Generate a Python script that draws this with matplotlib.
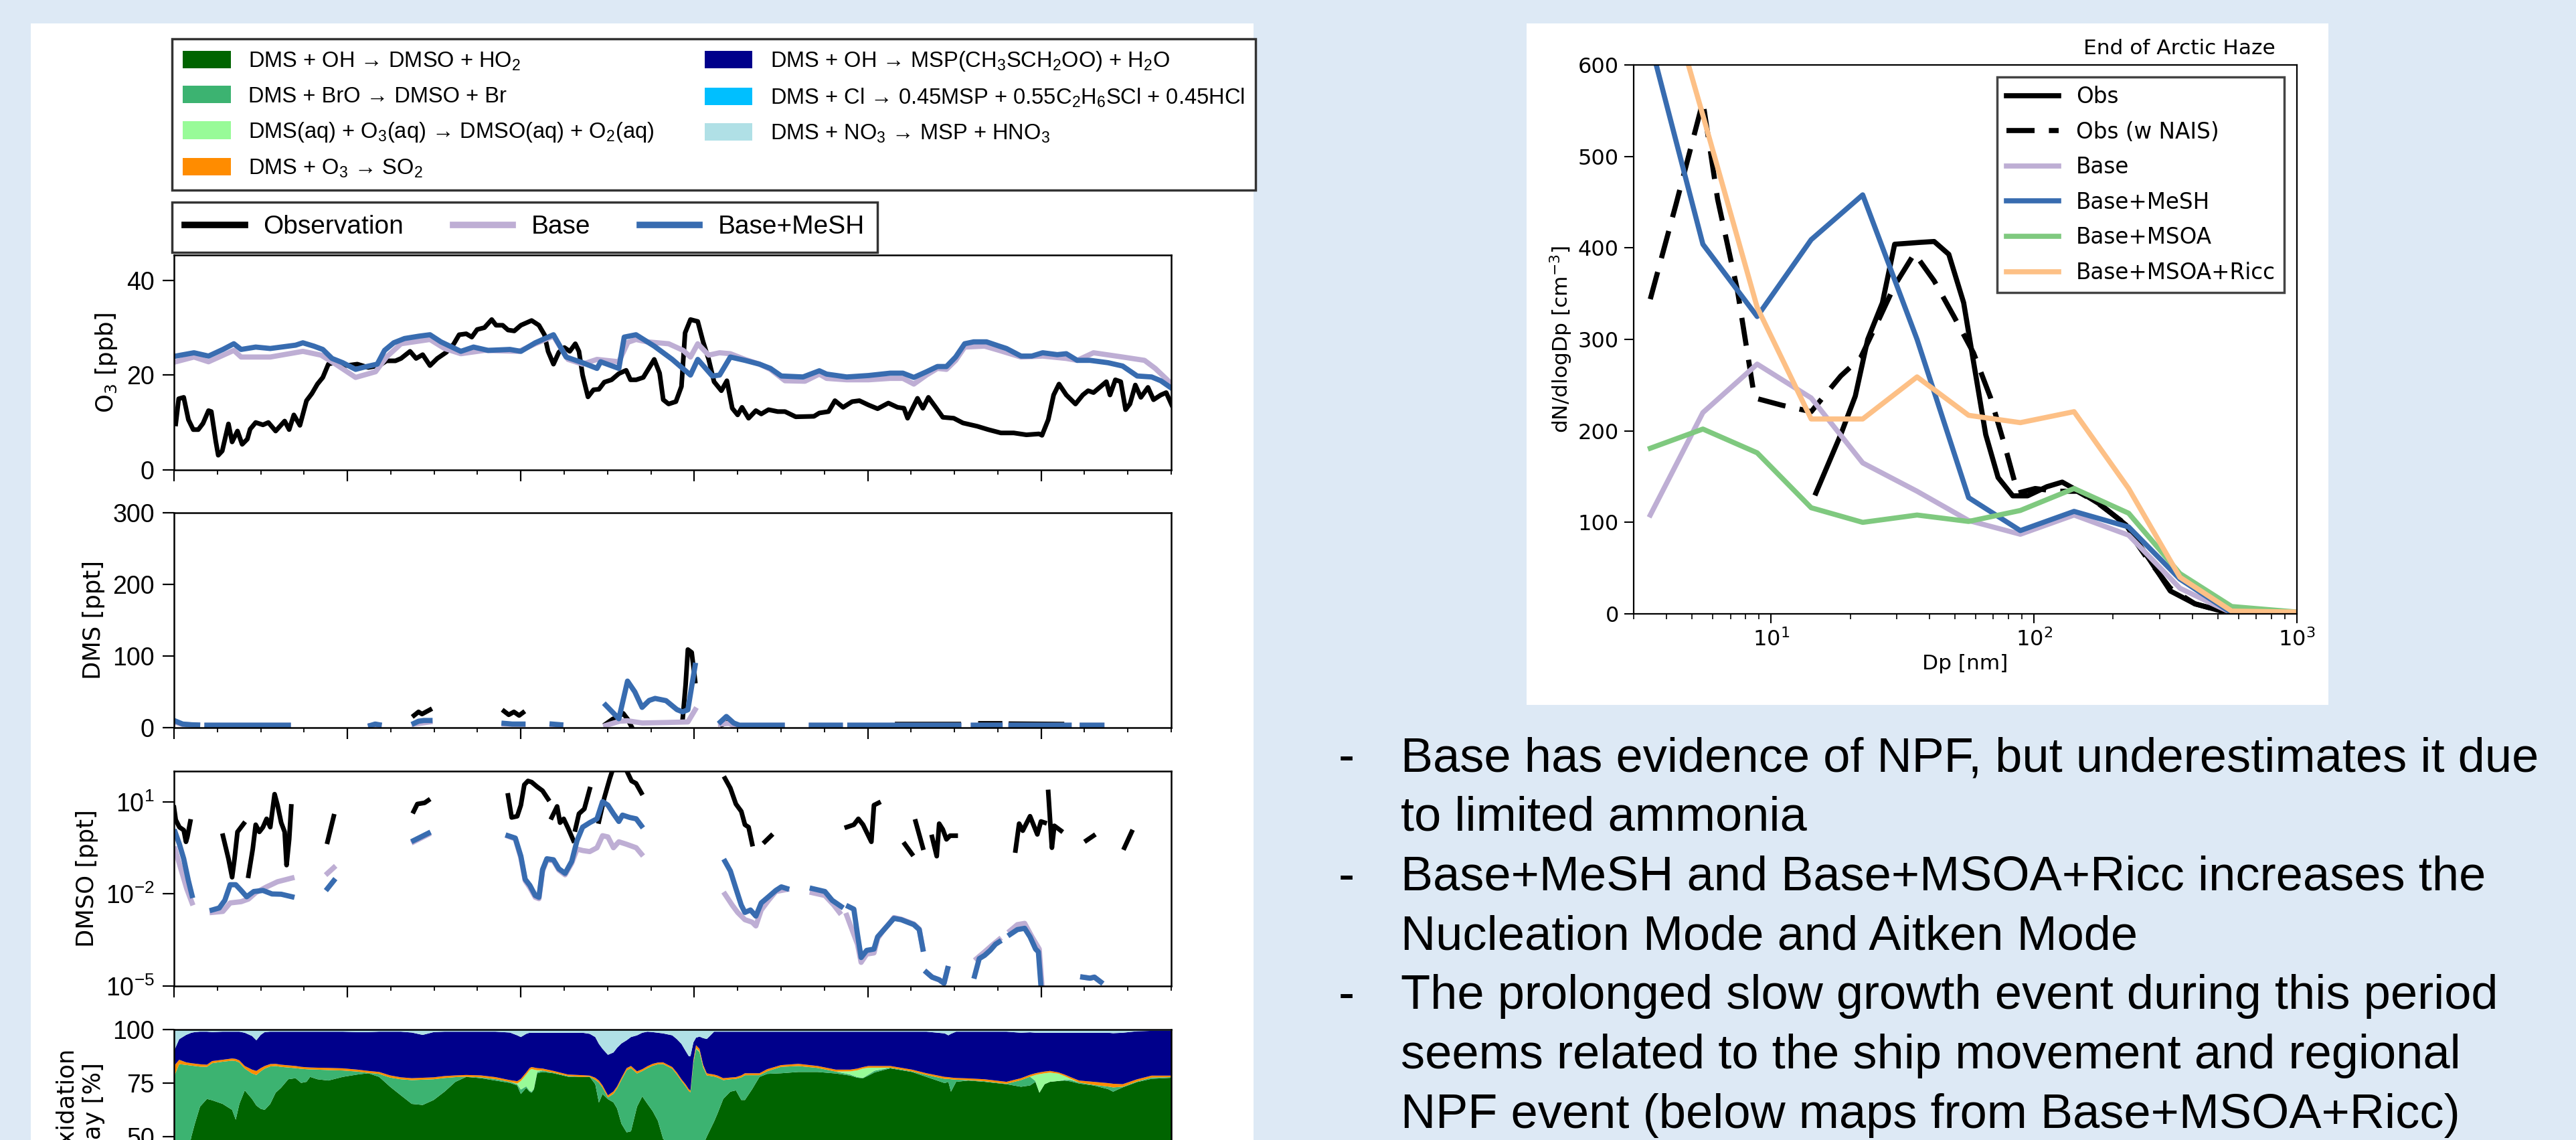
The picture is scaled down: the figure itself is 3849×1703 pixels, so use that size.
import numpy as np
import matplotlib
matplotlib.use('Agg')
import matplotlib.pyplot as plt
from matplotlib.patches import Rectangle, Patch
from matplotlib.lines import Line2D
from matplotlib.ticker import MultipleLocator, FixedLocator, NullLocator, NullFormatter, LogFormatterSciNotation

plt.rcParams['font.family'] = ['Liberation Sans', 'DejaVu Sans']

# ---------------- data (days since start of period) ----------------
O3_OBS = [(0.010, 9.7), (0.027, 15.0), (0.056, 15.3), (0.083, 10.6), (0.111, 8.5), (0.140, 8.5), (0.167, 9.8),
          (0.199, 12.5), (0.215, 12.3), (0.241, 6.0), (0.255, 3.1), (0.278, 4.0), (0.314, 9.7), (0.335, 5.9),
          (0.366, 8.2), (0.393, 5.4), (0.423, 6.5), (0.439, 8.6), (0.471, 10.0), (0.513, 9.5), (0.544, 10.0),
          (0.586, 8.2), (0.638, 10.3), (0.664, 8.5), (0.691, 11.6), (0.726, 9.4), (0.764, 14.6), (0.795, 16.1),
          (0.827, 18.1), (0.858, 19.5), (0.890, 22.3), (0.942, 22.8), (0.994, 22.0), (1.057, 22.3), (1.120, 21.6),
          (1.183, 22.0), (1.225, 23.0), (1.277, 23.0), (1.309, 23.5), (1.361, 25.0), (1.396, 23.5), (1.434, 24.3),
          (1.476, 22.0), (1.518, 23.5), (1.570, 24.8), (1.612, 26.5), (1.644, 28.5), (1.685, 28.7), (1.717, 28.0),
          (1.748, 29.6), (1.790, 30.0), (1.832, 31.7), (1.857, 30.5), (1.895, 30.5), (1.926, 29.5), (1.962, 29.3),
          (2.000, 30.5), (2.062, 31.5), (2.104, 30.5), (2.136, 28.5), (2.157, 25.0), (2.188, 22.3), (2.219, 24.8),
          (2.251, 25.8), (2.282, 25.0), (2.314, 26.6), (2.335, 25.0), (2.356, 20.0), (2.387, 15.4), (2.419, 16.9),
          (2.450, 17.0), (2.481, 18.5), (2.523, 19.0), (2.565, 20.3), (2.607, 21.0), (2.632, 19.0), (2.665, 19.0),
          (2.706, 19.5), (2.769, 23.3), (2.800, 20.4), (2.821, 14.8), (2.852, 13.9), (2.894, 14.4), (2.926, 17.6),
          (2.947, 28.9), (2.978, 31.7), (3.020, 31.3), (3.051, 27.0), (3.083, 23.3), (3.114, 18.6), (3.156, 16.7),
          (3.188, 18.8), (3.219, 13.0), (3.250, 11.6), (3.275, 13.2), (3.313, 10.9), (3.355, 12.5), (3.386, 11.8),
          (3.428, 12.7), (3.481, 12.3), (3.523, 12.3), (3.585, 11.2), (3.690, 11.3), (3.721, 12.0), (3.774, 12.3),
          (3.811, 14.6), (3.858, 13.2), (3.910, 14.4), (3.952, 14.6), (4.004, 13.7), (4.057, 12.9), (4.119, 14.1),
          (4.172, 13.2), (4.209, 13.0), (4.230, 10.9), (4.287, 15.1), (4.318, 13.0), (4.350, 15.3), (4.392, 13.2),
          (4.433, 11.1), (4.496, 10.9), (4.549, 9.9), (4.632, 9.2), (4.695, 8.5), (4.768, 7.8), (4.842, 7.8),
          (4.915, 7.4), (4.988, 7.6), (5.005, 7.3), (5.041, 10.6), (5.072, 15.8), (5.103, 18.1), (5.145, 15.8),
          (5.198, 13.9), (5.240, 15.8), (5.271, 16.7), (5.302, 16.3), (5.344, 17.6), (5.376, 18.6), (5.397, 15.8),
          (5.428, 19.0), (5.459, 18.6), (5.487, 12.7), (5.512, 13.9), (5.543, 17.9), (5.575, 15.3), (5.616, 17.4),
          (5.648, 14.8), (5.690, 15.8), (5.721, 16.3), (5.753, 13.7)]

O3_BASE = [(0.010, 22.8), (0.115, 23.8), (0.199, 22.8), (0.345, 25.2), (0.387, 23.8), (0.555, 23.8), (0.743, 25.0),
           (0.848, 24.2), (0.932, 22.3), (1.047, 19.5), (1.162, 20.7), (1.225, 23.8), (1.309, 26.6), (1.476, 27.5),
           (1.560, 25.6), (1.654, 24.5), (1.790, 25.2), (1.989, 25.0), (2.083, 26.6), (2.188, 28.2), (2.272, 23.3),
           (2.356, 22.3), (2.439, 23.3), (2.565, 22.8), (2.617, 26.9), (2.664, 27.5), (2.727, 27.0), (2.852, 26.6),
           (2.936, 25.2), (2.978, 23.8), (3.020, 26.6), (3.083, 24.2), (3.146, 24.7), (3.208, 24.5), (3.292, 23.3),
           (3.376, 22.3), (3.439, 21.2), (3.523, 18.8), (3.638, 18.7), (3.721, 20.2), (3.763, 19.3), (3.879, 19.0),
           (4.004, 19.0), (4.130, 19.3), (4.203, 19.3), (4.266, 18.1), (4.339, 20.0), (4.402, 21.4), (4.454, 21.2),
           (4.507, 23.1), (4.559, 25.9), (4.674, 26.1), (4.758, 25.2), (4.884, 23.8), (5.009, 24.0), (5.145, 23.5),
           (5.208, 23.1), (5.302, 24.7), (5.470, 23.8), (5.596, 23.1), (5.658, 21.4), (5.753, 18.1)]

O3_MESH = [(0.010, 24.0), (0.115, 24.7), (0.199, 24.0), (0.282, 25.4), (0.345, 26.6), (0.387, 25.4), (0.471, 25.9),
           (0.555, 25.6), (0.701, 26.3), (0.743, 26.8), (0.806, 26.1), (0.858, 25.4), (0.911, 23.5), (0.973, 22.6),
           (1.047, 21.2), (1.099, 21.7), (1.172, 22.3), (1.214, 25.2), (1.267, 26.8), (1.329, 27.7), (1.413, 28.2),
           (1.476, 28.5), (1.539, 27.0), (1.602, 25.9), (1.654, 25.0), (1.727, 25.9), (1.811, 25.2), (1.937, 25.4),
           (2.000, 25.0), (2.083, 26.8), (2.188, 28.5), (2.261, 23.8), (2.356, 22.6), (2.439, 21.4), (2.460, 22.8),
           (2.565, 21.4), (2.596, 28.0), (2.664, 28.5), (2.769, 26.1), (2.873, 23.3), (2.978, 20.0), (3.020, 23.3),
           (3.104, 19.8), (3.146, 20.0), (3.208, 23.8), (3.292, 23.1), (3.376, 22.3), (3.439, 21.4), (3.502, 19.8),
           (3.627, 19.6), (3.721, 20.9), (3.763, 20.2), (3.879, 19.6), (4.004, 19.9), (4.130, 20.4), (4.203, 20.4),
           (4.266, 19.5), (4.339, 20.7), (4.402, 21.8), (4.454, 21.8), (4.507, 23.8), (4.559, 26.6), (4.611, 27.0),
           (4.685, 27.0), (4.758, 26.1), (4.800, 25.6), (4.884, 24.0), (4.946, 24.0), (5.009, 24.7), (5.093, 24.3),
           (5.145, 24.5), (5.208, 23.1), (5.282, 23.1), (5.386, 22.6), (5.470, 21.9), (5.554, 19.8), (5.637, 19.6),
           (5.690, 18.8), (5.753, 17.2)]

nan = np.nan
DMS_OBS = [(1.384, 17), (1.41, 22), (1.43, 19), (1.476, 25), (1.6, nan),
           (1.903, 23), (1.93, 18), (1.96, 22), (1.99, 17), (2.012, 21), (2.2, nan),
           (2.489, 5), (2.53, 12), (2.565, 15.6), (2.59, 20), (2.615, 12), (2.64, 0.5), (2.8, nan),
           (2.933, 12), (2.95, 60), (2.963, 109), (2.985, 105), (3.005, 65), (3.1, nan),
           (3.16, 4), (3.2, 8), (3.227, 5), (3.4, nan),
           (4.17, 5), (4.525, 5), (4.56, nan), (4.65, 6), (4.763, 6), (4.8, nan), (4.826, 5.5), (5.12, 5)]
DMS_BASE = [(0.0, 8), (0.05, 4.5), (0.136, 3.5), (0.16, nan), (0.19, 3.2), (0.659, 3.2), (0.8, nan),
            (1.133, 3), (1.183, 3.5), (1.3, nan), (1.384, 5), (1.476, 8), (1.6, nan),
            (1.903, 5), (2.012, 4.5), (2.1, nan), (2.18, 4), (2.23, 3.5), (2.3, nan),
            (2.489, 3), (2.57, 9), (2.615, 9.6), (2.70, 6.5), (2.84, 7.2), (2.963, 8), (3.005, 25), (3.1, nan),
            (3.151, 5), (3.2, 6), (3.227, 3), (3.507, 3.2), (3.6, nan), (3.675, 3.2), (3.842, 3.2), (3.87, nan),
            (3.897, 3.2), (4.525, 3.2), (4.56, nan), (4.609, 3.2), (4.763, 3.2), (4.8, nan),
            (4.826, 3.2), (5.161, 3.2), (5.2, nan), (5.237, 3.2), (5.35, 3.2)]
DMS_MESH = [(0.0, 10), (0.05, 5), (0.1, 4), (0.136, 3.7), (0.16, nan), (0.19, 3.4), (0.659, 3.4), (0.8, nan),
            (1.133, 3), (1.16, 5), (1.183, 4), (1.3, nan), (1.384, 6), (1.41, 9), (1.44, 10), (1.476, 10), (1.6, nan),
            (1.903, 6), (1.95, 5), (2.012, 5), (2.1, nan), (2.18, 5), (2.23, 4), (2.3, nan),
            (2.489, 31.5), (2.565, 12.5), (2.615, 65), (2.657, 50), (2.699, 28.3), (2.74, 38), (2.774, 40.8),
            (2.837, 37.7), (2.9, 25.2), (2.933, 22), (2.963, 25), (3.005, 87), (3.1, nan),
            (3.151, 8), (3.185, 15.6), (3.227, 6.5), (3.26, 3.4), (3.507, 3.4), (3.6, nan),
            (3.675, 3.4), (3.842, 3.4), (3.87, nan), (3.897, 3.4), (4.525, 3.4), (4.56, nan),
            (4.609, 3.4), (4.763, 3.4), (4.8, nan), (4.826, 3.4), (5.161, 3.4), (5.2, nan), (5.237, 3.4), (5.35, 3.4)]

DMSO_OBS = [(0.0, 6.5), (0.010, 2.6), (0.031, 1.5), (0.056, 1.2), (0.069, 0.50), (0.077, 0.72), (0.094, 2.3), (0.2, nan),
            (0.282, 0.79), (0.314, 0.14), (0.335, 0.035), (0.349, 0.14), (0.366, 1.05), (0.402, 1.95), (0.41, nan),
            (0.429, 0.039), (0.454, 0.29), (0.471, 1.8), (0.492, 1.05), (0.513, 1.5), (0.534, 2.8), (0.555, 1.5),
            (0.580, 17.8), (0.597, 7.8), (0.618, 2.1), (0.638, 1.05), (0.649, 0.087), (0.664, 0.60), (0.676, 7.1), (0.8, nan),
            (0.885, 0.50), (0.921, 3.4), (1.2, nan),
            (1.382, 4.9), (1.403, 8.5), (1.445, 9.3), (1.466, 11.2), (1.7, nan),
            (1.926, 16.2), (1.947, 3.1), (1.979, 3.4), (2.000, 7.8), (2.020, 36), (2.041, 48), (2.062, 44),
            (2.094, 31), (2.125, 23), (2.157, 12.3), (2.167, nan),
            (2.178, 3.1), (2.209, 7.1), (2.226, 2.1), (2.247, 2.8), (2.272, 1.4), (2.303, 0.55), (2.308, nan),
            (2.314, 1.26), (2.335, 4.1), (2.366, 5.9), (2.397, 26), (2.42, nan),
            (2.450, 2.3), (2.481, 13.5), (2.513, 58), (2.544, 200), (2.586, 200), (2.638, 48), (2.664, 40),
            (2.695, 19.5), (2.9, nan),
            (3.177, 58), (3.208, 28), (3.240, 8.5), (3.271, 4.9), (3.292, 1.8), (3.313, 1.5), (3.334, 0.42), (3.37, nan),
            (3.407, 0.50), (3.443, 0.79), (3.6, nan),
            (3.879, 1.5), (3.920, 1.8), (3.946, 2.8), (3.973, 1.8), (4.021, 0.50), (4.036, 7.8), (4.063, 9.3), (4.1, nan),
            (4.214, 0.42), (4.255, 0.20), (4.265, nan), (4.276, 2.3), (4.318, 0.32), (4.34, nan),
            (4.371, 0.72), (4.398, 0.17), (4.412, 1.95), (4.433, 1.26), (4.454, 0.60), (4.475, 0.79), (4.507, 0.79), (4.6, nan),
            (4.852, 0.26), (4.873, 1.95), (4.894, 1.15), (4.936, 3.4), (4.978, 0.87), (4.999, 2.3), (5.020, 2.1), (5.03, nan),
            (5.041, 21), (5.062, 0.32), (5.076, 1.66), (5.114, 1.15), (5.2, nan),
            (5.261, 0.55), (5.302, 0.79), (5.4, nan), (5.480, 0.32), (5.522, 1.05)]
DMSO_BASE = [(0.006, 0.29), (0.031, 0.095), (0.073, 0.015), (0.104, 0.0051), (0.15, nan),
             (0.220, 0.0025), (0.282, 0.0027), (0.324, 0.0051), (0.387, 0.0056), (0.429, 0.0068), (0.471, 0.011),
             (0.534, 0.017), (0.597, 0.025), (0.680, 0.033), (0.8, nan),
             (0.885, 0.047), (0.921, 0.072), (1.2, nan), (1.382, 0.50), (1.466, 0.87), (1.7, nan),
             (1.926, 0.76), (1.968, 0.62), (2.000, 0.15), (2.025, 0.027), (2.052, 0.016), (2.083, 0.0078),
             (2.104, 0.0070), (2.125, 0.055), (2.150, 0.13), (2.188, 0.12), (2.219, 0.060), (2.255, 0.042),
             (2.293, 0.10), (2.324, 0.29), (2.356, 0.26), (2.397, 0.24), (2.439, 0.32), (2.471, 0.79), (2.502, 0.72),
             (2.534, 0.32), (2.565, 0.50), (2.607, 0.42), (2.665, 0.32), (2.695, 0.20), (2.9, nan),
             (3.177, 0.0098), (3.219, 0.0043), (3.250, 0.0025), (3.292, 0.00145), (3.334, 0.0012), (3.355, 0.00091),
             (3.386, 0.0030), (3.428, 0.0062), (3.470, 0.012), (3.533, 0.014), (3.6, nan),
             (3.680, 0.011), (3.753, 0.0089), (3.805, 0.0043), (3.837, 0.0025), (3.86, nan),
             (3.879, 0.0020), (3.941, 0.00023), (3.962, 5.9e-5), (3.994, 1.1e-4), (4.036, 1.2e-4), (4.057, 3.5e-4),
             (4.088, 6.3e-4), (4.119, 1.0e-3), (4.151, 1.7e-3), (4.193, 1.5e-3), (4.266, 1.05e-3), (4.297, 7.2e-4),
             (4.318, 1.6e-4), (4.33, nan),
             (4.339, 2.8e-5), (4.371, 1.95e-5), (4.412, 1.6e-5), (4.440, 1.23e-5), (4.461, 3.7e-5), (4.55, nan),
             (4.628, 7.8e-5), (4.674, 1.3e-4), (4.716, 2.1e-4), (4.758, 3.3e-4), (4.79, nan),
             (4.821, 6.3e-4), (4.863, 1.0e-3), (4.905, 1.1e-3), (4.947, 4.0e-4), (4.989, 1.6e-4), (5.005, 1.0e-5),
             (5.01, 3e-6), (5.1, nan),
             (5.240, 1.95e-5), (5.282, 1.8e-5), (5.307, 1.95e-5), (5.344, 1.35e-5)]
DMSO_MESH = [(0.006, 1.05), (0.031, 0.42), (0.056, 0.14), (0.083, 0.027), (0.104, 0.0089), (0.15, nan),
             (0.220, 0.0030), (0.261, 0.0035), (0.293, 0.0062), (0.324, 0.020), (0.356, 0.020), (0.387, 0.013),
             (0.419, 0.0081), (0.460, 0.012), (0.513, 0.013), (0.565, 0.010), (0.618, 0.0098), (0.680, 0.0081), (0.8, nan),
             (0.885, 0.015), (0.921, 0.027), (1.2, nan), (1.382, 0.55), (1.466, 0.95), (1.7, nan),
             (1.926, 0.79), (1.968, 0.66), (2.000, 0.17), (2.025, 0.030), (2.052, 0.019), (2.083, 0.0089),
             (2.104, 0.0078), (2.125, 0.062), (2.150, 0.14), (2.188, 0.13), (2.219, 0.066), (2.255, 0.047),
             (2.293, 0.115), (2.324, 0.55), (2.356, 1.5), (2.397, 2.1), (2.439, 2.8), (2.471, 10.2), (2.502, 7.8),
             (2.534, 4.1), (2.565, 2.3), (2.586, 3.7), (2.628, 3.1), (2.665, 2.8), (2.695, 1.66), (2.9, nan),
             (3.177, 0.115), (3.208, 0.056), (3.240, 0.015), (3.271, 0.0043), (3.292, 0.0025), (3.324, 0.0030),
             (3.355, 0.0019), (3.386, 0.0051), (3.428, 0.0081), (3.470, 0.013), (3.502, 0.017), (3.533, 0.015), (3.6, nan),
             (3.680, 0.015), (3.753, 0.012), (3.795, 0.0062), (3.847, 0.0039), (3.86, nan),
             (3.889, 0.0039), (3.920, 0.0032), (3.941, 0.00048), (3.962, 8.5e-5), (3.994, 1.45e-4), (4.036, 1.6e-4),
             (4.057, 4.0e-4), (4.088, 6.3e-4), (4.119, 1.0e-3), (4.151, 1.6e-3), (4.193, 1.45e-3), (4.266, 1.0e-3),
             (4.297, 6.9e-4), (4.318, 1.6e-4), (4.33, nan),
             (4.339, 2.8e-5), (4.371, 1.95e-5), (4.412, 1.6e-5), (4.440, 1.23e-5), (4.461, 3.7e-5), (4.55, nan),
             (4.616, 2.1e-5), (4.643, 7.8e-5), (4.674, 1.0e-4), (4.706, 1.45e-4), (4.737, 2.3e-4), (4.758, 2.75e-4), (4.79, nan),
             (4.821, 4.8e-4), (4.863, 6.9e-4), (4.905, 7.6e-4), (4.936, 4.0e-4), (4.968, 1.6e-4), (4.984, 1.3e-4),
             (4.999, 1.0e-5), (5.01, 3e-6), (5.1, nan),
             (5.240, 1.95e-5), (5.282, 1.8e-5), (5.307, 1.95e-5), (5.344, 1.35e-5)]

# Oxidation pathway: cumulative tops (%) of OH->DMSO, +BrO, +aq O3, +O3->SO2, +OH->MSP (rest: Cl, NO3)
PATHWAY = [
    (0.00, 30.0, 78.0, 78.0, 83.0, 90.0), (0.03, 32.0, 83.9, 83.9, 85.9, 95.5), (0.07, 38.0, 83.5, 83.5, 84.7, 97.5),
    (0.10, 50.0, 83.2, 83.2, 84.3, 98.5), (0.12, 56.0, 83.0, 83.0, 84.1, 98.8), (0.15, 64.0, 82.7, 82.7, 83.8, 99.0),
    (0.19, 67.6, 82.6, 82.6, 83.6, 99.0), (0.22, 67.0, 84.3, 84.3, 85.3, 98.8), (0.28, 65.3, 85.0, 85.0, 85.9, 99.0),
    (0.335, 62.5, 85.5, 85.5, 86.5, 99.0), (0.356, 57.9, 85.3, 85.3, 86.3, 99.0), (0.377, 65.3, 84.6, 84.6, 85.6, 99.0),
    (0.408, 71.6, 81.8, 81.8, 83.0, 98.5), (0.45, 67.6, 79.5, 79.5, 81.3, 97.0), (0.475, 64.5, 78.8, 78.8, 80.7, 95.0),
    (0.50, 63.0, 80.5, 80.5, 82.0, 97.5), (0.523, 62.5, 81.8, 81.8, 83.0, 98.8), (0.555, 65.3, 82.8, 82.8, 83.9, 99.0),
    (0.586, 70.5, 83.0, 83.0, 84.0, 99.0), (0.617, 72.8, 82.6, 82.6, 83.6, 99.0), (0.659, 76.8, 82.3, 82.3, 83.3, 99.0),
    (0.701, 77.3, 82.0, 82.0, 83.0, 99.0), (0.733, 75.1, 81.7, 81.7, 82.6, 99.0), (0.764, 75.6, 81.5, 81.5, 82.4, 99.0),
    (0.785, 77.9, 81.4, 81.4, 82.3, 99.0), (0.827, 76.8, 81.3, 81.3, 82.2, 99.0), (0.89, 76.2, 81.1, 81.1, 82.1, 99.0),
    (0.973, 77.9, 80.9, 80.9, 81.9, 99.0), (1.057, 79.0, 80.4, 80.4, 81.3, 98.8), (1.12, 79.6, 79.8, 79.8, 80.7, 98.8),
    (1.183, 77.9, 79.3, 79.3, 80.2, 99.0), (1.246, 73.3, 77.6, 77.6, 78.6, 99.0), (1.308, 69.3, 76.8, 76.8, 77.7, 99.0),
    (1.371, 65.3, 76.4, 76.4, 77.3, 98.6), (1.434, 64.8, 76.6, 76.6, 77.5, 97.5), (1.497, 67.1, 76.8, 76.8, 77.7, 98.8),
    (1.56, 71.0, 77.4, 77.4, 78.3, 99.0), (1.623, 75.6, 77.8, 77.8, 78.6, 99.0), (1.685, 77.9, 78.0, 78.0, 78.8, 99.0),
    (1.769, 77.3, 77.7, 77.7, 78.6, 99.0), (1.853, 76.2, 76.9, 76.9, 77.8, 99.0), (1.937, 75.1, 75.6, 75.6, 76.4, 98.6),
    (1.979, 73.9, 74.5, 74.8, 75.9, 97.3), (2.000, 69.9, 72.0, 76.0, 77.0, 96.5), (2.031, 72.8, 73.5, 79.0, 80.0, 98.0),
    (2.05, 71.0, 71.5, 81.0, 82.0, 98.5), (2.062, 70.5, 71.0, 81.6, 82.5, 98.5), (2.075, 72.0, 72.5, 81.3, 82.3, 98.5),
    (2.094, 79.6, 80.2, 81.0, 82.0, 98.5), (2.125, 80.2, 80.9, 80.9, 81.8, 98.5), (2.188, 79.6, 79.9, 79.9, 80.7, 98.5),
    (2.272, 78.0, 78.3, 78.3, 79.0, 98.5), (2.356, 77.9, 77.9, 77.9, 78.7, 98.5), (2.397, 77.9, 78.0, 78.0, 78.5, 98.0),
    (2.429, 74.5, 76.5, 76.5, 77.5, 96.5), (2.450, 65.9, 75.2, 75.2, 76.2, 93.3), (2.471, 69.9, 72.9, 72.9, 73.9, 91.0),
    (2.502, 67.5, 68.3, 68.3, 69.3, 88.2), (2.534, 66.0, 70.0, 70.0, 71.1, 89.3), (2.555, 63.1, 72.5, 72.5, 73.5, 91.5),
    (2.58, 56.0, 76.5, 76.5, 77.5, 93.5), (2.61, 52.0, 81.0, 81.0, 82.0, 95.0), (2.635, 52.5, 82.0, 82.0, 83.0, 96.5),
    (2.67, 64.0, 79.5, 79.5, 80.5, 97.3), (2.70, 68.8, 80.6, 80.6, 81.5, 98.5), (2.73, 65.3, 82.0, 82.0, 82.9, 99.0),
    (2.76, 61.9, 83.1, 83.1, 84.0, 98.8), (2.79, 57.4, 83.8, 83.8, 84.6, 98.5), (2.82, 49.0, 83.9, 83.9, 84.7, 98.2),
    (2.873, 45.0, 81.7, 81.7, 82.5, 97.3), (2.90, 44.0, 79.0, 79.0, 79.9, 95.5), (2.926, 43.0, 76.0, 76.0, 76.8, 93.3),
    (2.95, 44.0, 73.5, 73.5, 74.4, 90.0), (2.968, 45.0, 71.3, 71.3, 72.2, 87.6), (2.978, 43.0, 70.7, 70.7, 71.6, 87.6),
    (2.995, 44.0, 84.5, 84.8, 85.9, 94.0), (3.010, 44.0, 91.0, 91.3, 92.7, 96.2), (3.030, 45.0, 89.5, 89.8, 91.0, 96.7),
    (3.051, 46.0, 82.4, 82.6, 83.6, 96.0), (3.072, 50.0, 78.6, 78.6, 79.6, 95.6), (3.09, 53.0, 78.4, 78.4, 79.3, 97.0),
    (3.114, 57.0, 78.1, 78.1, 79.0, 99.0), (3.135, 61.0, 77.6, 77.6, 78.5, 99.0), (3.167, 67.6, 76.4, 76.4, 77.3, 99.0),
    (3.208, 71.0, 76.8, 76.8, 77.6, 99.0), (3.24, 71.6, 77.0, 77.0, 77.8, 99.0), (3.271, 67.1, 77.7, 77.7, 78.6, 99.0),
    (3.292, 67.1, 78.7, 78.7, 79.6, 99.0), (3.334, 72.2, 78.7, 78.7, 79.6, 99.0), (3.376, 77.9, 78.7, 78.7, 79.6, 99.0),
    (3.42, 79.3, 80.5, 80.5, 81.5, 99.0), (3.50, 79.6, 82.6, 82.6, 83.4, 99.0), (3.60, 80.2, 83.0, 83.0, 84.0, 99.0),
    (3.711, 80.2, 82.1, 82.1, 83.0, 99.0), (3.816, 79.5, 80.4, 80.4, 81.3, 99.0), (3.90, 78.5, 79.0, 80.5, 81.3, 99.0),
    (3.941, 77.5, 77.8, 81.0, 81.8, 99.0), (3.973, 77.3, 77.5, 81.8, 82.5, 99.0), (4.004, 78.5, 79.0, 82.2, 83.0, 99.0),
    (4.04, 80.0, 80.8, 82.2, 83.0, 99.0), (4.13, 81.9, 82.2, 82.2, 83.0, 99.0), (4.255, 80.2, 80.5, 80.5, 81.3, 99.0),
    (4.339, 77.9, 78.8, 78.8, 79.6, 99.0), (4.444, 75.0, 77.0, 77.0, 77.9, 98.2), (4.465, 75.6, 77.0, 77.0, 77.8, 97.3),
    (4.48, 71.0, 76.8, 76.8, 77.6, 98.0), (4.51, 75.6, 76.6, 76.6, 77.4, 99.0), (4.58, 76.2, 76.4, 76.4, 77.2, 99.0),
    (4.674, 75.6, 75.9, 75.9, 76.8, 99.0), (4.80, 74.5, 74.7, 74.7, 75.6, 99.0), (4.884, 73.3, 76.4, 76.4, 77.3, 98.5),
    (4.936, 73.9, 78.0, 78.0, 78.9, 98.7), (4.967, 75.6, 76.0, 78.8, 79.6, 98.5), (4.99, 70.5, 70.5, 79.2, 80.0, 98.5),
    (5.02, 74.5, 74.5, 79.6, 80.4, 98.5), (5.051, 75.6, 75.6, 79.9, 80.7, 98.5), (5.10, 76.0, 76.0, 79.4, 80.0, 98.5),
    (5.135, 76.2, 76.5, 78.3, 79.0, 98.5), (5.17, 75.8, 76.5, 77.0, 77.8, 98.5), (5.219, 74.8, 75.3, 75.3, 76.2, 98.5),
    (5.302, 73.9, 74.2, 74.2, 75.6, 98.5), (5.386, 72.2, 73.4, 73.4, 75.0, 98.5), (5.415, 71.0, 73.0, 73.0, 74.7, 98.3),
    (5.47, 73.0, 73.3, 73.3, 74.5, 98.5), (5.554, 75.5, 75.8, 75.8, 76.8, 99.2), (5.637, 77.0, 77.6, 77.6, 78.5, 99.4),
    (5.753, 77.5, 77.8, 77.8, 78.5, 99.4)]

REACTIONS = ['DMS + OH \u2192 DMSO + HO$_\\mathdefault{2}$',
             'DMS + BrO \u2192 DMSO + Br',
             'DMS(aq) + O$_\\mathdefault{3}$(aq) \u2192 DMSO(aq) + O$_\\mathdefault{2}$(aq)',
             'DMS + O$_\\mathdefault{3}$ \u2192 SO$_\\mathdefault{2}$',
             'DMS + OH \u2192 MSP(CH$_\\mathdefault{3}$SCH$_\\mathdefault{2}$OO) + H$_\\mathdefault{2}$O',
             'DMS + Cl \u2192 0.45MSP + 0.55C$_\\mathdefault{2}$H$_\\mathdefault{6}$SCl + 0.45HCl',
             'DMS + NO$_\\mathdefault{3}$ \u2192 MSP + HNO$_\\mathdefault{3}$']
REACTION_COLORS = ['#006400', '#3cb371', '#98fb98', '#ff8c00', '#00008b', '#00bfff', '#b0e0e6']

# size distribution (End of Arctic Haze)
DP_MODEL = [3.47, 5.5, 8.85, 14.2, 22.3, 35.9, 56.4, 88.7, 142, 229, 359, 565, 1000]
SD_BASE = [108, 220, 273, 236, 165, 134, 102, 87, 108, 86, 28, 1, 0]
SD_MESH = [625, 404, 325, 409, 458, 300, 127, 91, 112, 95, 38, 1, 0]
SD_MSOA = [181, 202, 176, 116, 100, 108, 101, 113, 137, 110, 44, 8, 2]
SD_RICC = [745, 545, 335, 213, 213, 259, 217, 209, 221, 137, 40, 3, 2]
DP_OBS = [14.8, 18.4, 20.9, 23.3, 26.5, 29.5, 36.6, 41.7, 47.4, 54.0, 58.9, 65.5, 73.0, 83.0, 94.5, 112, 128,
          152, 180, 224, 277, 330, 409, 565, 900]
SD_OBS = [132, 196, 238, 300, 340, 404, 406, 407, 393, 340, 275, 196, 149, 129, 129, 139, 144, 132, 119, 97,
          58, 25, 11, 0, 0]
DP_NAIS = [3.47, 4.35, 5.5, 6.26, 7.44, 8.65, 11.0, 14.2, 18.4, 21.9, 26.0, 29.5, 35.1, 41.7, 49.6, 58.9, 68.4,
           77.9, 86.7, 101, 122, 146, 173, 214, 266, 330, 409, 565, 900]
SD_NAIS = [344, 448, 560, 453, 354, 236, 228, 221, 260, 280, 325, 359, 394, 364, 325, 285, 236, 181, 132, 137,
           134, 134, 122, 102, 63, 28, 11, 0, 0]

TEXT_LINES = ['Base has evidence of NPF, but underestimates it due', 'to limited ammonia',
              'Base+MeSH and Base+MSOA+Ricc increases the', 'Nucleation Mode and Aitken Mode',
              'The prolonged slow growth event during this period',
              'seems related to the ship movement and regional',
              'NPF event (below maps from Base+MSOA+Ricc)']
BULLET_LINES = [0, 2, 4]

C_OBS, C_BASE, C_MESH = 'black', '#beaed4', '#386cb0'
C_MSOA, C_RICC = '#7fc97f', '#fdc086'

# ---------------- figure ----------------
W, H = 3849, 1703
fig = plt.figure(figsize=(W / 100, H / 100), dpi=100)
fig.patch.set_facecolor('#dde9f5')


def fx(px):
    return px / W


def fy(py):
    return 1 - py / H


def rect(l, t, r, b):
    return [l / W, 1 - b / H, (r - l) / W, (b - t) / H]


fig.add_artist(Rectangle((fx(46), fy(1703)), (1873 - 46) / W, (1703 - 35) / H, transform=fig.transFigure,
                         facecolor='white', edgecolor='none', zorder=-10))
fig.add_artist(Rectangle((fx(2281), fy(1053)), (3479 - 2281) / W, (1053 - 35) / H, transform=fig.transFigure,
                         facecolor='white', edgecolor='none', zorder=-10))


def arr(pairs):
    a = np.array(pairs, dtype=float)
    return a[:, 0], a[:, 1]


def style_ts(ax):
    for s in ax.spines.values():
        s.set_linewidth(1.8)
    ax.set_xlim(0, 5.75)
    ax.xaxis.set_major_locator(MultipleLocator(1))
    ax.xaxis.set_minor_locator(MultipleLocator(0.25))
    ax.xaxis.set_major_formatter(NullFormatter())
    ax.tick_params(axis='both', which='major', direction='out', length=12, width=1.6, labelsize=27, pad=9)
    ax.tick_params(axis='x', which='minor', direction='out', length=5, width=1.3)
    ax.tick_params(axis='y', which='minor', length=0)


LW_OBS, LW_MOD = 5.0, 5.6
YL = dict(fontsize=25.5, family='DejaVu Sans', labelpad=8)

ax1 = fig.add_axes(rect(260, 381, 1750, 702))
ax2 = fig.add_axes(rect(260, 766, 1750, 1087))
ax3 = fig.add_axes(rect(260, 1152, 1750, 1473))
ax4 = fig.add_axes(rect(260, 1538, 1750, 1858))

# O3
for data, c, lw in [(O3_OBS, C_OBS, LW_OBS), (O3_BASE, C_BASE, LW_MOD), (O3_MESH, C_MESH, LW_MOD)]:
    d, v = arr(data)
    ax1.plot(d, v, color=c, lw=lw)
ax1.set_ylim(0, 45.3)
ax1.yaxis.set_major_locator(FixedLocator([0, 20, 40]))
ax1.set_ylabel('O$_3$ [ppb]', **YL)
style_ts(ax1)

# DMS
for data, c, lw in [(DMS_OBS, C_OBS, LW_OBS), (DMS_BASE, C_BASE, LW_MOD), (DMS_MESH, C_MESH, LW_MOD)]:
    d, v = arr(data)
    ax2.plot(d, v, color=c, lw=lw)
ax2.set_ylim(0, 300)
ax2.yaxis.set_major_locator(FixedLocator([0, 100, 200, 300]))
ax2.set_ylabel('DMS [ppt]', **YL)
style_ts(ax2)

# DMSO
for data, c, lw in [(DMSO_OBS, C_OBS, LW_OBS), (DMSO_BASE, C_BASE, LW_MOD), (DMSO_MESH, C_MESH, LW_MOD)]:
    d, v = arr(data)
    ax3.plot(d, v, color=c, lw=lw)
ax3.set_yscale('log')
ax3.set_ylim(1e-5, 1e2)
ax3.yaxis.set_major_locator(FixedLocator([1e-5, 1e-2, 1e1]))
ax3.yaxis.set_minor_locator(NullLocator())
ax3.yaxis.set_major_formatter(LogFormatterSciNotation())
ax3.set_ylabel('DMSO [ppt]', **YL)
style_ts(ax3)

# Pathway
pw = np.array(PATHWAY, dtype=float)
pd_, b1, b2, b3, b4, b5 = pw.T
layers = [(np.zeros_like(b1), b1), (b1, b2), (b2, b3), (b3, b4), (b4, b5), (b5, b5), (b5, np.full_like(b5, 100.0))]
for (lo, hi), c in zip(layers, REACTION_COLORS):
    ax4.fill_between(pd_, lo, hi, facecolor=c, edgecolor='none', linewidth=0)
ax4.set_ylim(0, 100)
ax4.yaxis.set_major_locator(FixedLocator([0, 25, 50, 75, 100]))
ax4.set_ylabel('DMS Oxidation\nPathway [%]', **YL)
style_ts(ax4)

# legends (left panel)
rh = [Patch(facecolor=c, edgecolor='none') for c in REACTION_COLORS]
leg1 = fig.legend(rh, REACTIONS, loc='upper left', bbox_to_anchor=(fx(257), fy(58)),
                  bbox_transform=fig.transFigure, ncol=2, fontsize=23.5, frameon=True, fancybox=False,
                  edgecolor='#333333', framealpha=1, borderaxespad=0, handlelength=2.2, handleheight=0.85,
                  labelspacing=0.62, columnspacing=2.3, borderpad=0.5, handletextpad=0.8)
leg1.get_frame().set_linewidth(2.5)
lh = [Line2D([], [], color=C_OBS, lw=7), Line2D([], [], color=C_BASE, lw=7), Line2D([], [], color=C_MESH, lw=7)]
leg2 = fig.legend(lh, ['Observation', 'Base', 'Base+MeSH'], loc='upper left', bbox_to_anchor=(fx(257), fy(302)),
                  bbox_transform=fig.transFigure, ncol=3, fontsize=28, frameon=True, fancybox=False,
                  edgecolor='#333333', framealpha=1, borderaxespad=0, handlelength=2.3, columnspacing=1.9,
                  borderpad=0.5, handletextpad=0.7)
leg2.get_frame().set_linewidth(2.5)

# right panel: size distribution
axr = fig.add_axes(rect(2441, 97, 3432, 917))
RF = 'DejaVu Sans'
LW_R = 5.5
axr.plot(DP_OBS, SD_OBS, color=C_OBS, lw=LW_R, label='Obs')
axr.plot(DP_NAIS, SD_NAIS, color=C_OBS, lw=LW_R, dashes=(5.5, 2.8), label='Obs (w NAIS)')
axr.plot(DP_MODEL, SD_BASE, color=C_BASE, lw=LW_R, label='Base')
axr.plot(DP_MODEL, SD_MESH, color=C_MESH, lw=LW_R, label='Base+MeSH')
axr.plot(DP_MODEL, SD_MSOA, color=C_MSOA, lw=LW_R, label='Base+MSOA')
axr.plot(DP_MODEL, SD_RICC, color=C_RICC, lw=LW_R, label='Base+MSOA+Ricc')
axr.set_xscale('log')
axr.set_xlim(3, 1000)
axr.set_ylim(0, 600)
axr.yaxis.set_major_locator(MultipleLocator(100))
for s in axr.spines.values():
    s.set_linewidth(1.6)
axr.tick_params(axis='both', which='major', direction='out', length=10, width=1.5, labelsize=23, pad=6)
axr.tick_params(axis='x', which='minor', direction='out', length=6, width=1.2)
for lab in axr.get_xticklabels() + axr.get_yticklabels():
    lab.set_family(RF)
axr.set_xlabel('Dp [nm]', fontsize=22.5, family=RF)
axr.set_ylabel('dN/dlogDp [cm$^{-3}$]', fontsize=22.5, family=RF)
legr = axr.legend(loc='upper right', bbox_to_anchor=(fx(3413), fy(115)), bbox_transform=fig.transFigure,
                  frameon=True, fancybox=False, edgecolor='#444444', framealpha=1,
                  borderaxespad=0, handlelength=2.4, labelspacing=0.6, prop={'family': RF, 'size': 23.5})
legr.get_frame().set_linewidth(2.5)
fig.text(fx(3400), fy(81), 'End of Arctic Haze', ha='right', va='baseline', fontsize=22.5, family=RF)

# text block
BASE0, STEP = 1152, 88.8
for i, line in enumerate(TEXT_LINES):
    yb = BASE0 + STEP * i
    fig.text(fx(2093), fy(yb), line, ha='left', va='baseline', fontsize=52, family='Liberation Sans')
    if i in BULLET_LINES:
        fig.text(fx(2000), fy(yb), '-', ha='left', va='baseline', fontsize=52, family='Liberation Sans')

fig.savefig('out.png', dpi=100, facecolor=fig.get_facecolor())
